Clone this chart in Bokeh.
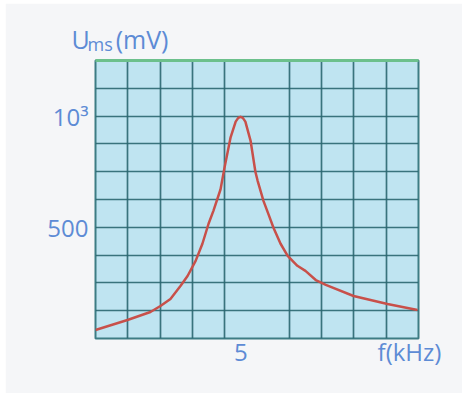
from bokeh.plotting import figure
from bokeh.models import Range1d, FixedTicker, Label, LinearAxis
from bokeh.embed import file_html
from bokeh.resources import INLINE

# Resonance curve: frequency (kHz) vs U_ms (mV)
freq_khz = [0.50, 1.49, 2.20, 2.51, 2.82, 3.13, 3.35, 3.60, 3.81, 4.00, 4.15, 4.37, 4.49, 4.68,
            4.84, 4.92, 4.99, 5.06, 5.14, 5.30, 5.45, 5.52, 5.70, 5.86, 6.01, 6.23, 6.45, 6.75,
            7.00, 7.32, 7.63, 8.49, 9.54, 10.47]
u_mv = [38, 83, 119, 146, 178, 236, 281, 349, 426, 516, 574, 670, 765, 903,
        975, 992, 997, 992, 975, 890, 750, 709, 619, 557, 498, 426, 372, 327,
        304, 263, 241, 191, 155, 128]

y_ticks = [500, 1000]
y_tick_labels = {1000: "10³", 500: "500"}
# the x axis carries the "5" tick and its unit name at the far end
x_ticks = [5, 10.22]
x_tick_labels = {5: "5", 10.22: "f(kHz)"}
y_grid = [125, 250, 375, 500, 625, 750, 875, 1000, 1125]
x_grid = [1.5, 2.5, 3.5, 4.5, 6.5, 7.5, 8.5, 9.5]

TXT = "#5d8bd5"
FONT = "Open Sans"
BG = "#f5f6f8"

p = figure(width=457, height=390, output_backend="svg", toolbar_location=None,
           x_range=Range1d(0.5, 10.5), y_range=Range1d(0, 1250),
           min_border_left=90, min_border_right=44, min_border_top=57, min_border_bottom=55)
p.margin = (3, 4, 4, 5)
p.background_fill_color = "#bfe4f1"
p.border_fill_color = BG
p.outline_line_color = "#3d7c84"
p.outline_line_width = 2

p.xgrid.ticker = FixedTicker(ticks=x_grid)
p.ygrid.ticker = FixedTicker(ticks=y_grid)
for g in (p.xgrid, p.ygrid):
    g.grid_line_color = "#2a6670"
    g.grid_line_width = 1.7
    g.grid_line_alpha = 0.9

p.yaxis.ticker = FixedTicker(ticks=y_ticks)
p.yaxis.major_label_overrides = y_tick_labels
p.xaxis.ticker = FixedTicker(ticks=x_ticks)
p.xaxis.major_label_overrides = x_tick_labels
for ax in (p.xaxis, p.yaxis):
    ax.axis_line_color = None
    ax.major_tick_line_color = None
    ax.minor_tick_line_color = None
    ax.major_tick_out = 0
    ax.major_tick_in = 0
    ax.major_label_text_font = FONT
    ax.major_label_text_font_size = "24px"
    ax.major_label_text_color = TXT
p.yaxis.major_label_standoff = 7
p.xaxis.major_label_standoff = -4

# green top edge of the frame, drawn as a bare axis line
top_axis = LinearAxis(ticker=FixedTicker(ticks=[]), axis_line_color="#6cc08c", axis_line_width=3,
                      major_tick_line_color=None, minor_tick_line_color=None,
                      major_tick_out=0, major_tick_in=0, major_label_standoff=0,
                      major_label_text_color=None)
p.add_layout(top_axis, "above")

p.line(freq_khz, u_mv, line_color="#c8504a", line_width=2.5, line_join="round")

def lab(x, y, text, size, side):
    p.add_layout(Label(x=x, y=y, x_units="canvas", y_units="canvas", text=text,
                       text_font=FONT, text_font_size=size, text_color=TXT,
                       text_baseline="middle"), side)

# y-axis title (canvas pixels): U, subscript ms, unit
NB = "\u00a0"
lab(66, 35, "U" + NB * 4 + "(mV)", "25px", "above")
lab(82, 40, "ms", "18px", "left")

open("out.html", "w").write(file_html(p, INLINE))
